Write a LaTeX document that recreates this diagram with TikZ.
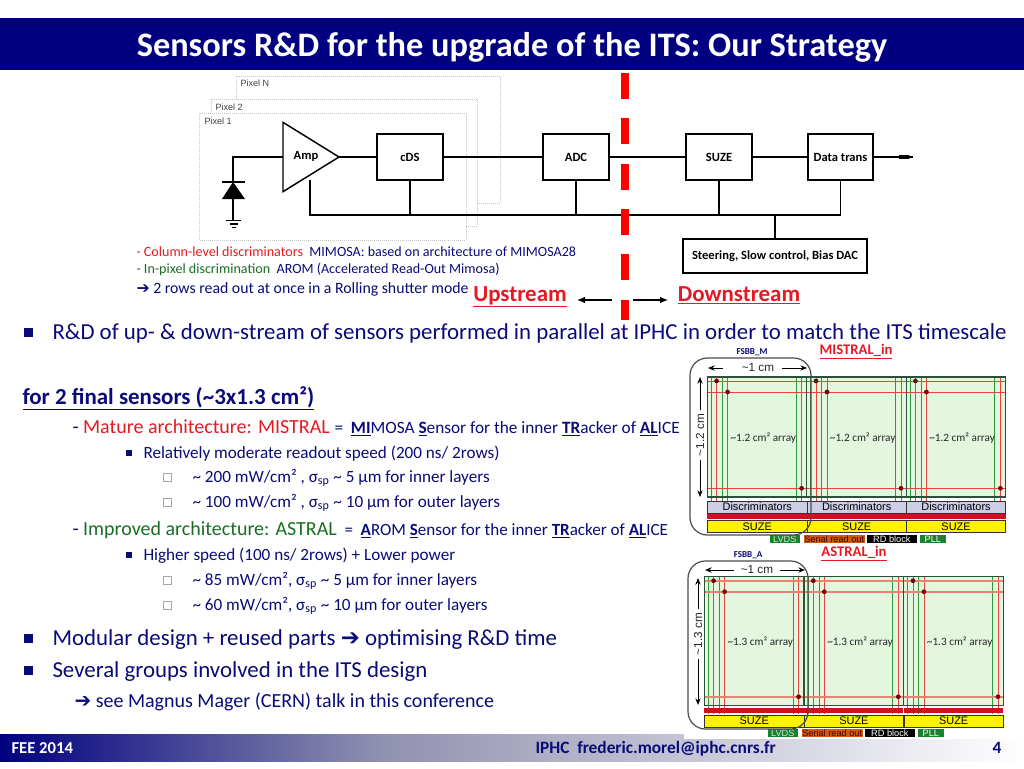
\documentclass[tikz,border=0pt]{standalone}
\usepackage{fontspec}
\setmainfont{Carlito}
\newfontfamily\arialfont{Liberation Sans}
\newfontfamily\symfont{DejaVu Sans}
\usetikzlibrary{shapes.geometric,arrows.meta}

\definecolor{navytxt}{RGB}{10,10,120}
\definecolor{titlebar}{RGB}{0,0,128}
\definecolor{footermid}{RGB}{144,144,176}
\definecolor{redtxt}{RGB}{230,25,35}
\definecolor{greentxt}{RGB}{25,110,35}
\definecolor{chipfill}{RGB}{226,247,222}
\definecolor{chipline}{RGB}{45,80,60}
\definecolor{linegreen}{RGB}{45,155,60}
\definecolor{linered}{RGB}{232,70,60}
\definecolor{salmon}{RGB}{236,130,115}
\definecolor{dotred}{RGB}{110,10,15}
\definecolor{barred}{RGB}{200,20,30}
\definecolor{discfill}{RGB}{205,205,232}
\definecolor{lvdsgreen}{RGB}{25,130,45}
\definecolor{serialorange}{RGB}{205,90,20}

\tikzset{every picture/.style={line width=0.75pt}}
\tikzset{
  txt/.style={anchor=base west,inner sep=0pt,text=navytxt},
  bigtxt/.style={txt,font=\fontsize{17.15}{20}\selectfont},
  midtxt/.style={txt,font=\fontsize{15}{18}\selectfont},
  smalltxt/.style={txt,font=\fontsize{12.85}{15}\selectfont},
  deftxt/.style={txt,font=\fontsize{12.95}{15}\selectfont},
  wire/.style={line width=1.1pt},
  blockbox/.style={draw,line width=1.1pt,fill=white,inner sep=0pt,font=\fontsize{9.4}{11}\selectfont\bfseries},
  pixelframe/.style={draw=black!22,line width=0.5pt,densely dotted},
  pixellbl/.style={anchor=west,inner sep=0pt,text=black!75,font=\arialfont\fontsize{6.8}{8}\selectfont},
  sqbullet/.style={fill=navytxt,inner sep=0pt,minimum size=6.5pt},
  tinybullet/.style={fill=navytxt,inner sep=0pt,minimum size=4.4pt},
  hollowbullet/.style={draw=black!35,fill=white,line width=0.4pt,inner sep=0pt,minimum size=6pt},
  streamlbl/.style={anchor=base,inner sep=0pt,text=redtxt,font=\fontsize{17.2}{20}\selectfont\bfseries},
  figlbl/.style={anchor=center,inner sep=0pt,text=redtxt,font=\fontsize{11}{13}\selectfont\bfseries},
  fsbblbl/.style={anchor=center,inner sep=0pt,text=navytxt,font=\fontsize{6.8}{8}\selectfont\bfseries},
  dimlbl/.style={anchor=center,inner sep=0pt,text=black!85,font=\arialfont\fontsize{8.8}{10}\selectfont},
  dimarrow/.style={line width=0.7pt,-{Stealth[length=5pt,width=4pt]}},
  fsbbbox/.style={draw=black!70,line width=0.9pt,rounded corners=13pt},
  arraylbl/.style={anchor=center,inner sep=0pt,text=black!85,font=\fontsize{8.4}{10}\selectfont},
  barlbl/.style={draw=black!80,line width=0.4pt,inner sep=0pt,anchor=center,font=\arialfont\fontsize{8.2}{10}\selectfont},
  legendbox/.style={inner sep=0pt,anchor=west,font=\arialfont\fontsize{6.9}{8}\selectfont,minimum height=6.2pt},
  rowline/.style={draw=linered},
}

% one chip of the stave: #1 name, #2 left, #3 top, #4 bottom, #5 low row, #6 end of the lines, #7 text
\newcommand{\sensorchip}[7]{%
  \fill[chipfill] (#2,#3) rectangle ({#2+99.4},#4);
  \foreach \vx in {4,15,88.7} {\draw[linegreen] ({#2+\vx},#3) -- ({#2+\vx},#6);}
  \foreach \vx in {9.3,20.3,94.3} {\draw[linered] ({#2+\vx},#3) -- ({#2+\vx},#6);}
  \draw[rowline] (#2,{#3+4}) -- ({#2+99.4},{#3+4});
  \draw[rowline] (#2,{#3+15}) -- ({#2+99.4},{#3+15});
  \draw[rowline] (#2,#5) -- ({#2+99.4},#5);
  \fill[dotred] ({#2+9.3},{#3+4}) circle (2.4);
  \fill[dotred] ({#2+20.3},{#3+15}) circle (2.4);
  \fill[dotred] ({#2+94.3},#5) circle (2.4);
  \draw[chipline,line width=0.9pt] (#2,#3) rectangle ({#2+99.4},#4);
  \node[arraylbl] (#1) at ({#2+56},{(#3+#4)/2+1}) {#7};
}

\begin{document}
\begin{tikzpicture}[x=0.75pt,y=0.75pt,yscale=-1]
\useasboundingbox (0,0) rectangle (1024,768);

%Shape: Title bar
\fill[titlebar] (0,18) rectangle (1024,70);
\node[anchor=base,inner sep=0pt,text=white,font=\fontsize{25.75}{30}\selectfont\bfseries] (title) at (512,56) {Sensors R\&D for the upgrade of the ITS: Our Strategy};

%Shape: Footer
\shade[left color=titlebar,right color=footermid] (0,734) rectangle (380,761);
\shade[left color=footermid,right color=white] (380,734) rectangle (1024,761);
\fill[white] (684,728) rectangle (1024,739);
\node[anchor=base west,inner sep=0pt,text=white,font=\fontsize{12.5}{14}\selectfont\bfseries] (feelbl) at (11,753) {FEE 2014};
\node[anchor=base west,inner sep=0pt,text=navytxt,font=\fontsize{13}{15}\selectfont\bfseries] (iphclbl) at (535,753) {IPHC\ \ frederic.morel@iphc.cnrs.fr};
\node[anchor=base,inner sep=0pt,text=navytxt,font=\fontsize{13}{15}\selectfont\bfseries] (pagelbl) at (997,753) {4};

%Pixel frames
\draw[pixelframe] (236,76) rectangle (500,203);
\draw[pixelframe,fill=white] (211,99) rectangle (477,226);
\draw[pixelframe,fill=white] (199,113) rectangle (466,240);
\node[pixellbl] (pixN) at (240,83) {Pixel N};
\node[pixellbl] (pix2) at (215,107) {Pixel 2};
\node[pixellbl] (pix1) at (204,121) {Pixel 1};

%Blocks of the chain
\node[draw,isosceles triangle,isosceles triangle stretches,shape border rotate=0,line width=1.1pt,minimum height=42pt,minimum width=52pt,inner sep=0pt,outer sep=0pt,anchor=apex] (amp) at (339,157) {};
\node[inner sep=0pt,font=\fontsize{9.4}{11}\selectfont\bfseries] (amplbl) at (306,156) {Amp};
\node[blockbox,minimum width=49.5pt,minimum height=34.5pt] (cds) at (410,157) {cDS};
\node[blockbox,minimum width=49.5pt,minimum height=34.5pt] (adc) at (576,157) {ADC};
\node[blockbox,minimum width=49.5pt,minimum height=34.5pt] (suze) at (719,157) {SUZE};
\node[blockbox,minimum width=49pt,minimum height=34.5pt] (datatrans) at (840.5,157) {Data trans};
\node[blockbox,minimum width=138pt,minimum height=25.5pt] (steering) at (775,256) {Steering, Slow control, Bias DAC};

\coordinate (diodein) at (233,157);
\coordinate (diodetop) at (233,182);
\coordinate (diodebot) at (233,199);
\coordinate (gnd) at (233,220.5);
\coordinate (ampsup) at (310,180);
\coordinate (busleft) at (310,215);
\coordinate (blobstart) at (899,157);
\coordinate (blobend) at (909,157);
\coordinate (dataout) at (913,157);

%Wires
\draw[wire] (amp.lower side) -- (diodein) -- (diodetop);
\draw[wire] (diodebot) -- (gnd);
\draw[wire] (amp.apex) -- (cds.west);
\draw[wire] (cds.east) -- (adc.west);
\draw[wire] (adc.east) -- (suze.west);
\draw[wire] (suze.east) -- (datatrans.west);
\draw[wire] (datatrans.east) -- (dataout);
\draw[line width=2.6pt,-{Latex[length=3pt,width=2.6pt]}] (blobstart) -- (dataout);
\draw[wire] (ampsup) -- (busleft) -| (datatrans.south);
\foreach \blk in {cds,adc,suze} {
  \draw[wire] (\blk.south) -- (\blk.south |- busleft);
}
\draw[wire] (steering.north) -- (steering.north |- busleft);

%Diode and ground
\fill (diodetop) -- (222,199) -- (245,199) -- cycle;
\draw[wire] (222,182) -- (245,182);
\draw[wire] (226,220.5) -- (241,220.5);
\draw[wire] (229.5,224) -- (237.5,224);
\draw[wire] (231.5,227.5) -- (235.5,227.5);

%Dashed separation
\draw[draw=red,line width=6pt,dash pattern={on 19.5pt off 14.5pt}] (625,73) -- (625,320);

%Upstream / Downstream
\node[streamlbl] (upstream) at (520,301) {\underline{Upstream}};
\node[streamlbl] (downstream) at (739,301) {\underline{Downstream}};
\coordinate (upleft) at (577,300);
\coordinate (upright) at (612,300);
\coordinate (downleft) at (633,300);
\coordinate (downright) at (668,300);
\draw[line width=0.9pt,-{Latex[length=6pt,width=5pt]}] (upright) -- (upleft);
\draw[line width=0.9pt,-{Latex[length=6pt,width=5pt]}] (downleft) -- (downright);

%Notes under the chain
\node[txt,font=\fontsize{10.55}{12}\selectfont] (note1) at (136,256) {\textcolor{redtxt}{- Column-level discriminators}\ \ MIMOSA: based on architecture of MIMOSA28};
\node[txt,font=\fontsize{10.55}{12}\selectfont] (note2) at (136,273) {\textcolor{greentxt}{- In-pixel discrimination}\ \ AROM (Accelerated Read-Out Mimosa)};
\node[txt,font=\fontsize{11.85}{14}\selectfont] (note3) at (136,293) {{\symfont\bfseries ➔} 2 rows read out at once in a Rolling shutter mode};

%Main text
\node[sqbullet] (bul1) at (28.5,332.5) {};
\node[bigtxt] (rdline) at (52,339) {R\&D of up- \& down-stream of sensors performed in parallel at IPHC in order to match the ITS timescale};
\node[txt,font=\fontsize{17.2}{20}\selectfont\bfseries] (finalline) at (22,404) {\underline{for 2 final sensors (\textasciitilde3x1.3 cm²)}};

\node[midtxt] (mistral) at (72,433) {- \textcolor{redtxt}{Mature architecture: MISTRAL}};
\node[deftxt] (mistraldef) at (334,433) {=\ \ \underline{\textbf{MI}}MOSA \underline{\textbf{S}}ensor for the inner \underline{\textbf{TR}}acker of \underline{\textbf{AL}}ICE};
\node[tinybullet] (bul2) at (129,453) {};
\node[smalltxt] (speedm) at (143,458) {Relatively moderate readout speed (200 ns/ 2rows)};
\node[hollowbullet] (bul3) at (167,477) {};
\node[smalltxt] (innerm) at (192,482) {\textasciitilde{} 200 mW/cm² , σ\textsubscript{sp} \textasciitilde{} 5 µm for inner layers};
\node[hollowbullet] (bul4) at (167,502) {};
\node[smalltxt] (outerm) at (192,507) {\textasciitilde{} 100 mW/cm² , σ\textsubscript{sp} \textasciitilde{} 10 µm for outer layers};

\node[midtxt] (astral) at (72,535) {- \textcolor{greentxt}{Improved architecture: ASTRAL}};
\node[txt,font=\fontsize{12.8}{15}\selectfont] (astraldef) at (344,535) {=\ \ \underline{\textbf{A}}ROM \underline{\textbf{S}}ensor for the inner \underline{\textbf{TR}}acker of \underline{\textbf{AL}}ICE};
\node[tinybullet] (bul5) at (129,555) {};
\node[smalltxt] (speeda) at (143,560) {Higher speed (100 ns/ 2rows) + Lower power};
\node[hollowbullet] (bul6) at (167,580) {};
\node[smalltxt] (innera) at (192,585) {\textasciitilde{} 85 mW/cm², σ\textsubscript{sp} \textasciitilde{} 5 µm for inner layers};
\node[hollowbullet] (bul7) at (167,605) {};
\node[smalltxt] (outera) at (192,610) {\textasciitilde{} 60 mW/cm², σ\textsubscript{sp} \textasciitilde{} 10 µm for outer layers};

\node[sqbullet] (bul8) at (28.5,638.5) {};
\node[bigtxt] (modular) at (52,645) {Modular design + reused parts {\symfont\bfseries ➔} optimising R\&D time};
\node[sqbullet] (bul9) at (28.5,670.5) {};
\node[bigtxt] (groups) at (52,677) {Several groups involved in the ITS design};
\node[txt,font=\fontsize{15}{18}\selectfont] (magnus) at (74,707) {{\symfont\bfseries ➔} see Magnus Mager (CERN) talk in this conference};

%MISTRAL_in
\node[fsbblbl] (fsbbm) at (752,352) {FSBB\_M};
\node[figlbl] (mistralin) at (856,352) {\underline{MISTRAL\_in}};
\foreach \cx/\cn in {707.3/ma,806.7/mb,906.1/mc} {
  \sensorchip{\cn}{\cx}{377}{497}{488.3}{519}{\textasciitilde1.2 cm² array}
  \node[barlbl,fill=discfill,minimum width=74.5pt,minimum height=9pt,anchor=north west] (\cn disc) at (\cx,500.7) {Discriminators};
  \fill[barred] (\cx,514) rectangle ({\cx+99.4},519);
  \node[barlbl,fill=yellow,minimum width=74.5pt,minimum height=9pt,anchor=north west] (\cn suze) at (\cx,520) {SUZE};
}
\node[legendbox,fill=lvdsgreen,text=white!80!lvdsgreen,minimum width=23pt] (mlvds) at (769,539) {\hfil LVDS};
\node[legendbox,fill=serialorange,text=black!70!red,minimum width=46pt] (mserial) at (803,539) {Serial read out};
\node[legendbox,fill=black,text=white,minimum width=38pt] (mrd) at (866,539) {RD block};
\node[legendbox,fill=lvdsgreen,text=white,minimum width=20pt] (mpll) at (919,539) {PLL};
\draw[fsbbbox] (690,358) rectangle (811,535);
\node[dimlbl] (mwidth) at (758,368) {\textasciitilde1 cm};
\node[dimlbl,rotate=90] (mheight) at (700,435) {\textasciitilde1.2 cm};
\coordinate (mwl) at (708,371);
\coordinate (mwr) at (807,371);
\coordinate (mht) at (700,377);
\coordinate (mhb) at (700,497);
\draw[dimarrow] (mwidth.west -| 723,0) -- (mwl |- mwidth.west);
\draw[dimarrow] (mwidth.east -| 782,0) -- (mwr |- mwidth.east);
\draw[dimarrow] (mheight.east) ++(0,-3) -- (mht);
\draw[dimarrow] (mheight.west) ++(0,3) -- (mhb);

%ASTRAL_in
\node[fsbblbl] (fsbba) at (748,555) {FSBB\_A};
\node[figlbl] (astralin) at (854,554) {\underline{ASTRAL\_in}};
\foreach \cx/\cn in {704.3/aa,804/ab,903.7/ac} {
  \begin{scope}[rowline/.style={draw=salmon,line width=1.2pt}]
  \sensorchip{\cn}{\cx}{576.7}{705.7}{696.7}{714}{\textasciitilde1.3 cm² array}
  \end{scope}
  \fill[barred] (\cx,708) rectangle ({\cx+99.4},713);
  \node[barlbl,fill=yellow,minimum width=74.5pt,minimum height=9pt,anchor=north west] (\cn suze) at (\cx,714.7) {SUZE};
}
\node[legendbox,fill=lvdsgreen,text=white!80!lvdsgreen,minimum width=23pt] (alvds) at (767,733) {\hfil LVDS};
\node[legendbox,fill=serialorange,text=black!70!red,minimum width=46pt] (aserial) at (801,733) {Serial read out};
\node[legendbox,fill=black,text=white,minimum width=38pt] (ard) at (864,733) {RD block};
\node[legendbox,fill=lvdsgreen,text=white,minimum width=20pt] (apll) at (917,733) {PLL};
\draw[fsbbbox] (688,561) rectangle (808,729);
\node[dimlbl] (awidth) at (757,570) {\textasciitilde1 cm};
\node[dimlbl,rotate=90] (aheight) at (698,634) {\textasciitilde1.3 cm};
\coordinate (awl) at (705,573);
\coordinate (awr) at (805,573);
\coordinate (aht) at (698,578);
\coordinate (ahb) at (698,705);
\draw[dimarrow] (awidth.west -| 734,0) -- (awl |- awidth.west);
\draw[dimarrow] (awidth.east -| 780,0) -- (awr |- awidth.east);
\draw[dimarrow] (aheight.east) ++(0,-3) -- (aht);
\draw[dimarrow] (aheight.west) ++(0,3) -- (ahb);

\end{tikzpicture}
\end{document}
